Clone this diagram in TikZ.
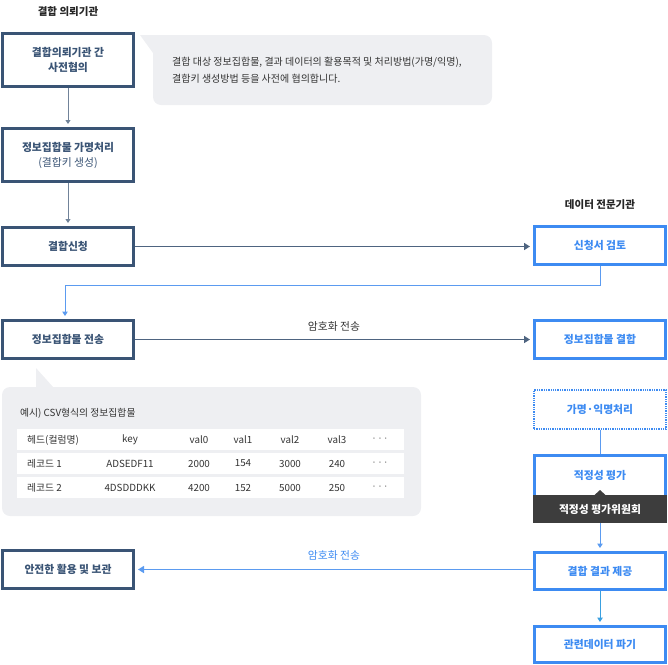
\documentclass[tikz,border=0pt]{standalone}
\usepackage{fontspec}
\setmainfont{Noto Sans CJK KR}
\usetikzlibrary{arrows.meta}
\definecolor{dk}{HTML}{3A5475}
\definecolor{dkline}{HTML}{4E6480}
\definecolor{bl}{HTML}{3D8BF2}
\definecolor{blline}{HTML}{5B9BF0}
\definecolor{cyl}{HTML}{3AA0E0}
\definecolor{bub}{HTML}{EEEFF2}
\definecolor{ban}{HTML}{3D3D3D}
\definecolor{tx}{HTML}{333333}
\tikzset{
  dkbox/.style={draw=dk, line width=3pt, fill=white, minimum width=131pt, align=center,
    text=dk, font=\bfseries\fontsize{10.8}{15}\selectfont, inner sep=0pt},
  blbox/.style={draw=bl, line width=3pt, fill=white, minimum width=131pt, align=center,
    text=bl, font=\bfseries\fontsize{10.8}{15}\selectfont, inner sep=0pt},
  dkarrow/.style={draw=dkline, line width=1.5pt, -{Triangle[length=6pt,width=7pt]}, shorten >=3pt},
  dkvarrow/.style={draw=dkline!80, line width=1pt, -{Triangle[length=4pt,width=5pt]}, shorten >=3pt},
  blarrow/.style={draw=blline, line width=1pt, -{Triangle[length=4.5pt,width=5.5pt]}, shorten >=3pt},
  ttl/.style={font=\bfseries\fontsize{10.5}{12}\selectfont, text=black!85},
  small/.style={font=\fontsize{9.8}{12}\selectfont, text=tx, inner sep=0pt},
  lbl/.style={font=\fontsize{10.8}{12}\selectfont},
}
\begin{document}
\begin{tikzpicture}[x=1pt,y=-1pt]
\useasboundingbox (0,0) rectangle (668,664);

% titles
\node[ttl] (t1) at (68,12) {결합 의뢰기관};
\node[ttl] (t2) at (600,205) {데이터 전문기관};

% callout 1
\fill[bub] (140,35) -- (153,35) -- (153,53) -- cycle;
\fill[bub, rounded corners=8pt] (153,35) rectangle (492,105);
\fill[bub] (153,35) rectangle (165,47);
\node[small, anchor=west, align=left, font=\fontsize{10}{16.5}\selectfont] (c1) at (172,70)
  {결합 대상 정보집합물, 결과 데이터의 활용목적 및 처리방법(가명/익명),\\결합키 생성방법 등을 사전에 협의합니다.};

% left column
\node[dkbox, minimum height=53pt] (b1) at (68,60) {결합의뢰기관 간\\사전협의};
\node[dkbox, minimum height=53pt] (b2) at (68,155)
  {정보집합물 가명처리\\{\mdseries (결합키 생성)}};
\node[dkbox, minimum height=38pt] (b3) at (68,246.5) {결합신청};
\node[dkbox, minimum height=38pt] (b4) at (68,339.5) {정보집합물 전송};
\node[dkbox, minimum height=38pt] (b6) at (68,569.5) {안전한 활용 및 보관};

% right column
\node[blbox, minimum height=38pt] (r1) at (600,245) {신청서 검토};
\node[blbox, minimum height=38pt] (r2) at (600,339.5) {정보집합물 결합};
\node[draw=bl, line width=1.3pt, densely dotted, minimum width=132pt, minimum height=39pt,
  text=bl, font=\bfseries\fontsize{10.8}{15}\selectfont, inner sep=0pt] (r3) at (600,409.5) {가명·익명처리};
\node[blbox, minimum height=42pt] (r4) at (600,476) {\raisebox{3pt}{적정성 평가}};
\node[fill=ban, minimum width=134pt, minimum height=28pt, inner sep=0pt, text=white,
  font=\bfseries\fontsize{10.8}{15}\selectfont] (ban) at (600,509) {적정성 평가위원회};
\fill[ban] (600,490) -- (606,495.5) -- (594,495.5) -- cycle;
\node[blbox, minimum height=37pt] (r5) at (600,571) {결합 결과 제공};
\node[blbox, minimum height=36pt] (r6) at (600,644.5) {관련데이터 파기};

% connectors left
\draw[dkvarrow] (b1.south) -- (b2.north);
\draw[dkvarrow] (b2.south) -- (b3.north);
\draw[dkarrow] (b3.east) -- (r1.west |- b3.east);
\draw[dkarrow] (b4.east) -- node[above=4pt, lbl, text=tx] (l1) {암호화 전송} (r2.west);

% elbow
\coordinate (elb) at (65,285.5);
\draw[blarrow] (r1.south) |- (elb) -- (b4.north -| elb);

% right column connectors
\draw[draw=blline, line width=1pt] (r3.south) -- (r4.north);
\draw[blarrow] (ban.south) -- (r5.north);
\draw[draw=cyl, line width=1pt, -{Triangle[length=4.5pt,width=5.5pt]}, shorten >=3pt] (r5.south) -- (r6.north);
\draw[draw=blline, line width=1.5pt, -{Triangle[length=6pt,width=7pt]}, shorten >=3pt]
  (r5.west |- b6.east) -- node[above=5pt, lbl, text=bl] (l2) {암호화 전송} (b6.east);

% callout 2
\fill[bub] (36,368) -- (36,388) -- (54,388) -- cycle;
\fill[bub, rounded corners=8pt] (2,387) rectangle (421,516);
\node[small, anchor=west] (ex) at (20,413) {예시) CSV형식의 정보집합물};
\fill[white] (17,429) rectangle (404,450);
\fill[white] (17,453) rectangle (404,474);
\fill[white] (17,477) rectangle (404,498);
\foreach \nm/\y/\a/\b/\c/\d/\e/\f in {h/440/key/val0/val1/val2/val3/헤드(컬럼명), ra/463.5/ADSEDF11/2000/154/3000/240/레코드 1, rb/487.5/4DSDDDKK/4200/152/5000/250/레코드 2}{
  \node[small, anchor=west] (\nm0) at (27,\y) {\f};
  \node[small] (\nm1) at (130,\y) {\a};
  \node[small] (\nm2) at (199,\y) {\b};
  \node[small] (\nm3) at (243,\y) {\c};
  \node[small] (\nm4) at (290,\y) {\d};
  \node[small] (\nm5) at (337,\y) {\e};
  \node[small, font=\fontsize{8}{10}\selectfont] (\nm6) at (380,\y) {·\,·\,·};
}
\end{tikzpicture}
\end{document}
